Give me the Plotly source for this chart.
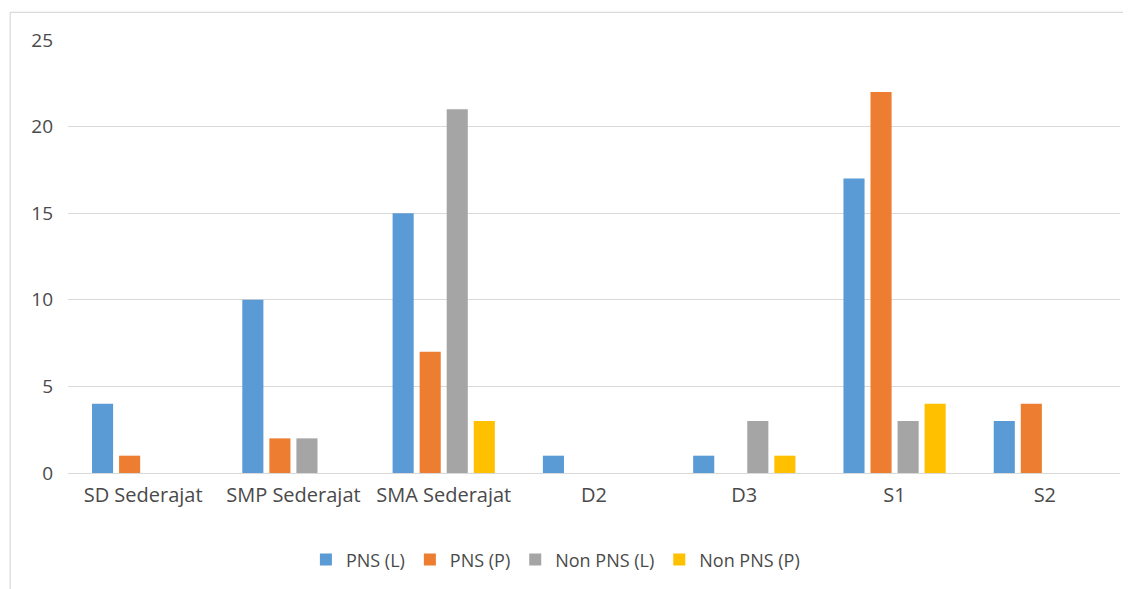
import plotly.graph_objects as go

categories = ["SD Sederajat", "SMP Sederajat", "SMA Sederajat", "D2", "D3", "S1", "S2"]
pns_l = [4, 10, 15, 1, 1, 17, 3]
pns_p = [1, 2, 7, 0, 0, 22, 4]
non_pns_l = [0, 2, 21, 0, 3, 3, 0]
non_pns_p = [0, 0, 3, 0, 1, 4, 0]
y_ticks = [0, 5, 10, 15, 20, 25]

series = [
    ("PNS (L)", pns_l, "#5B9BD5"),
    ("PNS (P)", pns_p, "#ED7D31"),
    ("Non PNS (L)", non_pns_l, "#A5A5A5"),
    ("Non PNS (P)", non_pns_p, "#FFC000"),
]

fig = go.Figure()
for name, vals, col in series:
    fig.add_trace(go.Bar(x=categories, y=vals, name=name, marker=dict(color=col, line=dict(width=0))))

font = dict(family="Open Sans, Noto Sans, sans-serif", size=19, color="#4a4a4a")
xfont = dict(family="Open Sans, Noto Sans, sans-serif", size=20, color="#4a4a4a")
fig.update_layout(
    width=1131, height=589,
    paper_bgcolor="white", plot_bgcolor="white",
    margin=dict(l=60, r=19, t=32, b=124),
    barmode="group", bargap=0.28, bargroupgap=0.22,
    font=font,
    legend=dict(orientation="h", xref="container", yref="container",
                x=0.484, xanchor="center", y=0.063, yanchor="middle",
                font=dict(family="Open Sans, Noto Sans, sans-serif", size=18, color="#4a4a4a"),
                itemwidth=30, traceorder="normal"),
    xaxis=dict(showgrid=False, showline=False, ticks="", tickfont=xfont, ticklabelstandoff=8),
    yaxis=dict(range=[0, 25], tickvals=y_ticks, showgrid=True, gridcolor="#D9D9D9",
               gridwidth=1, zeroline=True, zerolinecolor="#D9D9D9", zerolinewidth=1,
               showline=False, ticks="", tickfont=font, ticklabelstandoff=14),
    shapes=[dict(type="rect", xref="paper", yref="paper", x0=-0.055, x1=1.02,
                 y0=-0.4, y1=1.064, line=dict(color="#D0D0D0", width=1), layer="below")],
)

fig.write_html("out.html")
